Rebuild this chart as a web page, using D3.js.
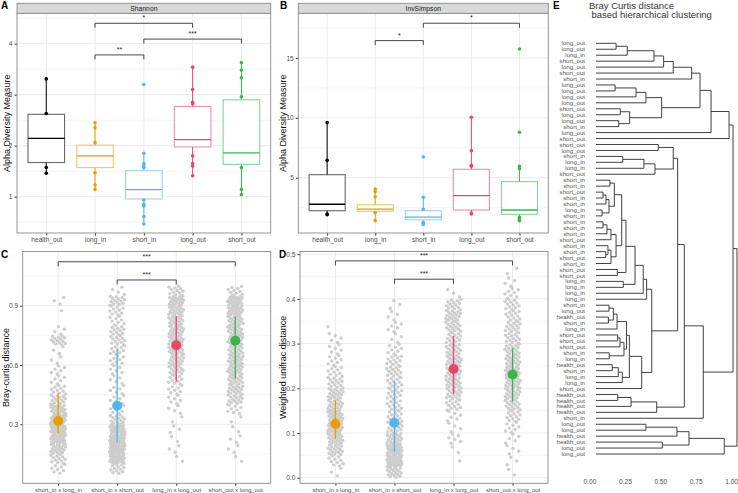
<!DOCTYPE html>
<html>
<head>
<meta charset="utf-8">
<script src="https://cdn.jsdelivr.net/npm/d3@7"></script>
<style>
  body { margin: 0; background: #fff; }
  text { font-family: "Liberation Sans", Arial, sans-serif; }
</style>
</head>
<body>
<svg id="chart" width="738" height="493"></svg>
<script>
// ---- data ----
var groups = ["health_out", "long_in", "short_in", "long_out", "short_out"];
var groupColors = ["#000000", "#E69F00", "#56B4E9", "#E5486A", "#3DB34C"];

// Shannon boxplots
var shannonQ1  = [1.67, 1.57, 0.955, 1.975, 1.635];
var shannonMed = [2.145, 1.80, 1.14, 2.12, 1.86];
var shannonQ3  = [2.615, 2.01, 1.51, 2.77, 2.90];
var shannonLo  = [1.46, 1.14, 0.465, 1.41, 1.04];
var shannonHi  = [3.31, 2.45, 1.85, 3.54, 3.63];
var shannonPts = [
  [3.31, 2.63, 1.57, 1.46],
  [2.45, 2.35, 2.06, 1.47, 1.23, 1.14],
  [3.20, 1.85, 1.65, 1.61, 1.57, 0.935, 0.85, 0.82, 0.61, 0.465],
  [3.54, 3.10, 2.85, 2.82, 1.80, 1.65, 1.60, 1.41],
  [3.63, 3.48, 3.33, 2.96, 1.57, 1.14, 1.04]
];
var shannonSig = [["long_in", "long_out", "*", 4.40], ["short_in", "short_out", "***", 4.09], ["long_in", "short_in", "**", 3.78]];

// InvSimpson boxplots
var invQ1  = [2.24, 2.19, 1.48, 2.30, 1.94];
var invMed = [2.78, 2.38, 1.70, 3.50, 2.30];
var invQ3  = [5.25, 2.74, 2.24, 5.70, 4.67];
var invLo  = [1.90, 1.41, 1.10, 1.95, 1.40];
var invHi  = [9.60, 4.06, 3.36, 10.05, 5.95];
var invPts = [
  [9.60, 6.45, 1.97, 1.90],
  [4.06, 3.83, 3.41, 2.08, 1.41],
  [6.73, 3.36, 2.36, 1.26, 1.18, 1.10],
  [10.05, 7.26, 6.03, 5.95, 2.05, 1.97],
  [15.75, 8.80, 5.95, 5.75, 1.70, 1.50, 1.40]
];
var invSig = [["short_in", "short_out", "*", 17.9], ["long_in", "short_in", "*", 16.45]];

// pairwise distances (C, D)
var pairs = ["short_in x long_in", "short_in x short_out", "long_in x long_out", "short_out x long_out"];
var pairColors = ["#E69F00", "#56B4E9", "#E5486A", "#3DB34C"];

var brayMean = [0.317, 0.394, 0.700, 0.723];
var brayLo   = [0.254, 0.207, 0.515, 0.530];
var brayHi   = [0.457, 0.680, 0.848, 0.844];
// point counts per 0.05 bin, starting at 0.05
var brayBinStart = 0.05, brayBinWidth = 0.05;
var brayCounts = [
  [8, 12, 18, 25, 30, 30, 20, 14, 10, 6, 6, 3, 3, 14, 4, 0, 1, 3, 0],
  [12, 25, 35, 35, 25, 14, 8, 6, 6, 5, 6, 8, 10, 12, 12, 8, 10, 14, 4],
  [0, 2, 3, 2, 3, 2, 4, 6, 8, 10, 14, 16, 18, 18, 18, 16, 18, 20, 12],
  [0, 2, 3, 3, 2, 2, 8, 14, 16, 16, 18, 18, 16, 18, 18, 18, 22, 22, 10]
];
var braySig = [["short_in x long_in", "short_out x long_out", "***", 1.122], ["short_in x short_out", "long_in x long_out", "***", 1.03]];

var unifracMean = [0.120, 0.123, 0.243, 0.231];
var unifracLo   = [0.087, 0.058, 0.187, 0.170];
var unifracHi   = [0.173, 0.216, 0.317, 0.290];
// point counts per 0.025 bin, starting at 0
var unifracBinStart = 0, unifracBinWidth = 0.025;
var unifracCounts = [
  [3, 10, 18, 22, 25, 22, 18, 18, 14, 10, 8, 6, 5, 1, 0, 0, 0, 0, 0],
  [18, 35, 30, 20, 15, 12, 12, 12, 12, 14, 12, 8, 4, 6, 4, 3, 0, 0, 0],
  [0, 1, 2, 6, 4, 6, 12, 16, 18, 18, 18, 16, 14, 16, 18, 14, 3, 0, 0],
  [2, 3, 4, 5, 8, 12, 16, 18, 20, 20, 18, 16, 14, 14, 12, 12, 8, 4, 2]
];
var unifracSig = [["short_in x long_in", "short_out x long_out", "***", 0.485], ["short_in x short_out", "long_in x long_out", "***", 0.444]];

// dendrogram (hclust style: negative = leaf, positive = earlier merge)
var leafLabels = ["long_out","long_out","long_in","short_out","long_out","short_out","short_in","long_out","long_out","long_out",
  "long_out","short_out","long_out","long_out","short_in","long_out","short_out","short_out","long_out","short_in",
  "long_in","long_in","short_out","short_in","short_in","short_out","short_in","short_in","long_in","short_in",
  "short_in","short_in","short_in","short_out","short_in","short_in","short_out","short_in","short_out","short_out",
  "long_in","long_in","long_in","long_in","short_in","long_out","health_out","short_in","long_in","short_out",
  "short_out","short_out","short_in","long_in","health_out","short_in","long_in","long_in","short_out","health_out",
  "health_out","health_out","health_out","short_in","long_out","long_out","health_out","health_out","long_out","long_out"];
var merges = [
  [-1,-2],[1,-3],[2,-4],[3,-5],[4,-6],[5,-7],[-8,-9],[7,-10],[8,-11],[-12,-13],
  [-14,-15],[10,11],[9,12],[6,13],[14,-16],[15,-17],[-18,-19],[-20,-21],[18,-22],[19,-23],
  [17,20],[-24,-25],[-26,-27],[23,-28],[-29,-30],[24,25],[22,26],[-31,-32],[28,-33],[29,-34],
  [-36,-37],[-35,31],[32,-38],[30,33],[27,34],[-39,-40],[35,36],[-41,-42],[37,38],[39,-43],
  [40,-44],[-45,-46],[-47,-48],[42,43],[44,-49],[-50,-51],[46,-52],[-53,-54],[47,48],[45,49],
  [-55,-56],[51,-57],[52,-58],[50,53],[54,-59],[41,55],[21,56],[-60,-61],[58,-62],[59,-63],
  [57,60],[61,-64],[16,62],[-65,-66],[64,-67],[-68,-69],[65,66],[67,-70],[63,68]
];
var mergeHeights = [
  0.184,0.263,0.452,0.520,0.588,0.718,0.177,0.325,0.395,0.214,
  0.203,0.280,0.506,0.777,0.855,0.982,0.482,0.231,0.381,0.459,
  0.588,0.141,0.092,0.113,0.085,0.134,0.172,0.092,0.120,0.148,
  0.111,0.127,0.148,0.184,0.224,0.193,0.254,0.235,0.318,0.376,
  0.400,0.134,0.130,0.165,0.191,0.196,0.212,0.136,0.240,0.258,
  0.157,0.200,0.228,0.278,0.365,0.436,0.619,0.196,0.290,0.471,
  0.666,0.800,1.010,0.395,0.614,0.511,0.699,0.948,1.038
];
var dendroTicks = [0, 0.25, 0.5, 0.75, 1];

// ---- drawing ----
var svg = d3.select("#chart");
var gridCol = "#ebebeb", borderCol = "#8a8a8a", tickTextCol = "#4d4d4d";

function panelLabel(x, y, t) {
  svg.append("text").attr("x", x).attr("y", y).attr("font-size", 10).attr("font-weight", "bold").text(t);
}

function frame(p, x, y, yTicks, yMinor, fmt, ylab, ylabX, xFont) {
  var g = svg.append("g");
  yMinor.forEach(function(v) {
    g.append("line").attr("x1", p.left).attr("x2", p.right).attr("y1", y(v)).attr("y2", y(v))
      .attr("stroke", gridCol).attr("stroke-width", 0.5);
  });
  yTicks.forEach(function(v) {
    g.append("line").attr("x1", p.left).attr("x2", p.right).attr("y1", y(v)).attr("y2", y(v))
      .attr("stroke", gridCol).attr("stroke-width", 1);
  });
  x.domain().forEach(function(c) {
    g.append("line").attr("x1", x(c)).attr("x2", x(c)).attr("y1", p.top).attr("y2", p.bottom)
      .attr("stroke", gridCol).attr("stroke-width", 1);
  });
  // axes (ggplot style: short ticks, grey labels)
  var ya = svg.append("g").attr("transform", "translate(" + p.left + ",0)")
    .call(d3.axisLeft(y).tickValues(yTicks).tickSize(2.5).tickPadding(2).tickFormat(fmt));
  var xa = svg.append("g").attr("transform", "translate(0," + p.bottom + ")")
    .call(d3.axisBottom(x).tickSize(2.5).tickPadding(1.5));
  [ya, xa].forEach(function(a) {
    a.select(".domain").remove();
    a.selectAll("line").attr("stroke", "#333");
    a.selectAll("text").attr("fill", tickTextCol).attr("font-size", 6.6)
      .attr("font-family", "Liberation Sans, Arial, sans-serif");
  });
  xa.selectAll("text").attr("font-size", xFont);
  svg.append("text").attr("transform", "translate(" + ylabX + "," + ((p.top + p.bottom) / 2) + ") rotate(-90)")
    .attr("text-anchor", "middle").attr("font-size", 9).attr("fill", "#111").text(ylab);
  return g;
}

function border(p) {
  svg.append("rect").attr("x", p.left).attr("y", p.top).attr("width", p.right - p.left)
    .attr("height", p.bottom - p.top).attr("fill", "none").attr("stroke", borderCol).attr("stroke-width", 0.9);
}

function sigBrackets(list, x, y) {
  list.forEach(function(s) {
    var yy = y(s[3]);
    svg.append("path").attr("d", "M" + x(s[0]) + "," + (yy + 4.5) + "V" + yy + "H" + x(s[1]) + "V" + (yy + 4.5))
      .attr("fill", "none").attr("stroke", "#333").attr("stroke-width", 0.9);
    svg.append("text").attr("x", (x(s[0]) + x(s[1])) / 2).attr("y", yy - 3).attr("text-anchor", "middle")
      .attr("font-size", 7).attr("fill", "#222").text(s[2]);
  });
}

function boxPanel(p, strip, yDom, yTicks, yMinor, q1, med, q3, lo, hi, pts, sig, label, labelX, ylabX) {
  var x = d3.scalePoint().domain(groups).range([p.left, p.right]).padding(0.6);
  var y = d3.scaleLinear().domain(yDom).range([p.bottom, p.top]);
  frame(p, x, y, yTicks, yMinor, d3.format("d"), "Alpha Diversity Measure", ylabX, 6.6);
  var bw = x.step() * 0.75;
  groups.forEach(function(gname, i) {
    var cx = x(gname), col = groupColors[i];
    svg.append("line").attr("x1", cx).attr("x2", cx).attr("y1", y(hi[i])).attr("y2", y(q3[i]))
      .attr("stroke", col).attr("stroke-width", 1);
    svg.append("line").attr("x1", cx).attr("x2", cx).attr("y1", y(q1[i])).attr("y2", y(lo[i]))
      .attr("stroke", col).attr("stroke-width", 1);
    svg.append("rect").attr("x", cx - bw / 2).attr("y", y(q3[i])).attr("width", bw)
      .attr("height", y(q1[i]) - y(q3[i])).attr("fill", "#fff").attr("stroke", col)
      .attr("stroke-opacity", 0.6).attr("stroke-width", 1.1);
    svg.append("line").attr("x1", cx - bw / 2).attr("x2", cx + bw / 2).attr("y1", y(med[i])).attr("y2", y(med[i]))
      .attr("stroke", col).attr("stroke-width", 1.3);
    svg.selectAll(null).data(pts[i]).enter().append("circle")
      .attr("cx", cx).attr("cy", function(d) { return y(d); }).attr("r", 1.8).attr("fill", col);
  });
  border(p);
  svg.append("rect").attr("x", p.left).attr("y", p.top - 10).attr("width", p.right - p.left).attr("height", 10)
    .attr("fill", "#d9d9d9").attr("stroke", borderCol).attr("stroke-width", 0.9);
  svg.append("text").attr("x", (p.left + p.right) / 2).attr("y", p.top - 2.6).attr("text-anchor", "middle")
    .attr("font-size", 6.8).attr("fill", "#1a1a1a").text(strip);
  sigBrackets(sig, x, y);
  panelLabel(labelX, 9, label);
}

function distPanel(p, yDom, yTicks, yMinor, fmt, mean, lo, hi, binStart, binWidth, counts, sig, ylab, label, labelX, ylabX) {
  var x = d3.scalePoint().domain(pairs).range([p.left, p.right]).padding(0.6);
  var y = d3.scaleLinear().domain(yDom).range([p.bottom, p.top]);
  frame(p, x, y, yTicks, yMinor, fmt, ylab, ylabX, 6);
  var jw = x.step() * 0.13;
  pairs.forEach(function(pr, i) {
    var cx = x(pr), pts = [], k = 0;
    counts[i].forEach(function(n, j) {
      for (var m = 0; m < n; m++) {
        var v = binStart + binWidth * (j + (m + 0.5) / n);
        var f = ((k + 1) * 0.618034 + j * 0.29) % 1;
        pts.push([cx + (f * 2 - 1) * jw, v]);
        k++;
      }
    });
    svg.selectAll(null).data(pts).enter().append("circle")
      .attr("cx", function(d) { return d[0]; }).attr("cy", function(d) { return y(d[1]); })
      .attr("r", 1.7).attr("fill", "#cdcdcd");
  });
  pairs.forEach(function(pr, i) {
    svg.append("line").attr("x1", x(pr)).attr("x2", x(pr)).attr("y1", y(lo[i])).attr("y2", y(hi[i]))
      .attr("stroke", pairColors[i]).attr("stroke-width", 1.3);
    svg.append("circle").attr("cx", x(pr)).attr("cy", y(mean[i])).attr("r", 5).attr("fill", pairColors[i]);
  });
  border(p);
  sigBrackets(sig, x, y);
  panelLabel(labelX, p.top + 6.5, label);
}

boxPanel({left: 17, right: 270.7, top: 13.3, bottom: 233}, "Shannon", [0.288, 4.596],
  [1, 2, 3, 4], [0.5, 1.5, 2.5, 3.5, 4.5], shannonQ1, shannonMed, shannonQ3, shannonLo, shannonHi, shannonPts,
  shannonSig, "A", 1, 9.5);
boxPanel({left: 298.3, right: 548.3, top: 13.3, bottom: 233}, "InvSimpson", [0.38, 18.73],
  [5, 10, 15], [2.5, 7.5, 12.5, 17.5], invQ1, invMed, invQ3, invLo, invHi, invPts,
  invSig, "B", 280, 285.5);

distPanel({left: 22.7, right: 270.7, top: 251.5, bottom: 483.3}, [0.0016, 1.174], [0.3, 0.6, 0.9],
  [0.15, 0.45, 0.75, 1.05], d3.format(".1f"), brayMean, brayLo, brayHi, brayBinStart, brayBinWidth, brayCounts,
  braySig, "Bray-curtis distance", "C", 1, 8.5);
distPanel({left: 300, right: 548, top: 251.5, bottom: 483.3}, [-0.0125, 0.506], [0, 0.1, 0.2, 0.3, 0.4, 0.5],
  [0.05, 0.15, 0.25, 0.35, 0.45], d3.format(".1f"), unifracMean, unifracLo, unifracHi, unifracBinStart, unifracBinWidth,
  unifracCounts, unifracSig, "Weighted unifrac distance", "D", 279, 285.5);

// ---- E: dendrogram ----
panelLabel(553, 9, "E");
svg.append("text").attr("x", 589).attr("y", 8.5).attr("font-size", 9.5).attr("fill", "#333").text("Bray Curtis distance");
svg.append("text").attr("x", 591.5).attr("y", 18).attr("font-size", 9.5).attr("fill", "#333").text("based hierarchical clustering");

var dx = d3.scaleLinear().domain([0, 1]).range([590, 731.6]);
var dy = d3.scaleLinear().domain([1, leafLabels.length]).range([43.3, 454]);
var leafX = dx(0) + 6;
var nodes = [];
function nodePos(ref) {
  if (ref < 0) return {x: leafX, y: dy(-ref)};
  return nodes[ref - 1];
}
merges.forEach(function(m, i) {
  var a = nodePos(m[0]), b = nodePos(m[1]);
  var nx = dx(mergeHeights[i]);
  nodes.push({x: nx, y: (a.y + b.y) / 2});
  [a, b].forEach(function(c) {
    svg.append("path").attr("d", "M" + c.x + "," + c.y + "H" + nx + "V" + ((a.y + b.y) / 2))
      .attr("fill", "none").attr("stroke", "#2b2b2b").attr("stroke-width", 0.9);
  });
});
svg.selectAll(".leaf").data(leafLabels).enter().append("text")
  .attr("x", 585).attr("y", function(d, i) { return dy(i + 1) + 2.1; })
  .attr("text-anchor", "end").attr("font-size", 6.1).attr("fill", "#555").text(function(d) { return d; });
svg.selectAll(".dtick").data(dendroTicks).enter().append("text")
  .attr("x", function(d) { return dx(d); }).attr("y", 483.5).attr("text-anchor", "middle")
  .attr("font-size", 6.6).attr("fill", tickTextCol).text(function(d) { return d3.format(".2f")(d); });
</script>
</body>
</html>
